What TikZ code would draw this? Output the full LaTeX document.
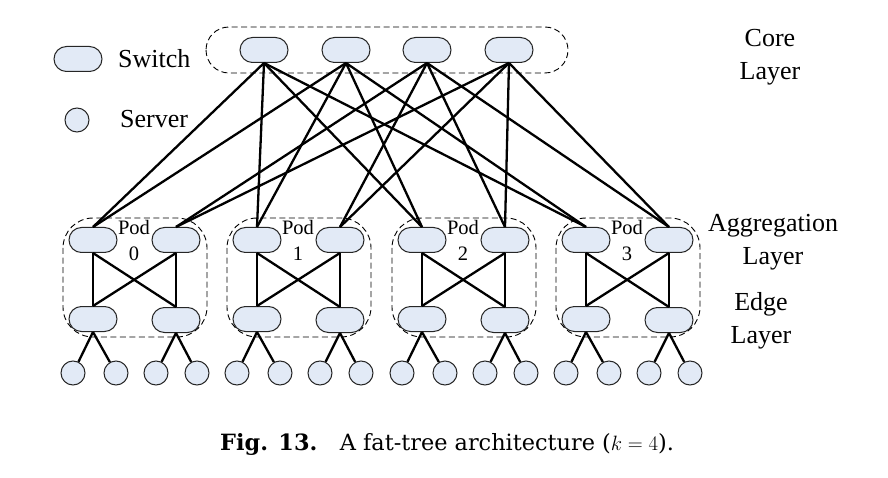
\documentclass[tikz,border=0pt]{standalone}
\usepackage{fontspec}
\setmainfont{Liberation Serif}
\newfontfamily\capfont{DejaVu Serif}
\usepackage{xcolor}

\definecolor{swfill}{RGB}{226,234,246}

\tikzset{
  switch/.style={draw=black!85, line width=1pt, fill=swfill, rounded corners=12.5pt,
    minimum width=48pt, minimum height=25pt, inner sep=0pt},
  server/.style={circle, draw=black!85, line width=1pt, fill=swfill, minimum size=24pt, inner sep=0pt},
  link/.style={line width=2.3pt},
  group/.style={line width=0.9pt, dash pattern=on 6pt off 3.5pt},
  lbl/.style={font=\fontsize{26}{33}\selectfont, align=center, inner sep=0pt},
  podlbl/.style={font=\fontsize{20.5}{25}\selectfont, align=center, fill=white, inner sep=0.5pt},
}

\begin{document}
\begin{tikzpicture}[x=1pt,y=-1pt]
  \useasboundingbox (0,0) rectangle (888,478);

  % Legend
  \node[switch] (keysw) at (78,59) {};
  \node[lbl, anchor=base west] (keyswtxt) at (118,68) {Switch};
  \node[server] (keysrv) at (77,120) {};
  \node[lbl, anchor=base west] (keysrvtxt) at (120,128) {Server};

  % Layer names (base = last line)
  \node[lbl, anchor=base] (corelbl) at (770,80) {Core\\Layer};
  \node[lbl, anchor=base] (agglbl)  at (773,265) {Aggregation\\Layer};
  \node[lbl, anchor=base] (edgelbl) at (761,343) {Edge\\Layer};

  % Core layer
  \draw[group, rounded corners=23pt] (206,27) rectangle (568,73);
  \foreach \c/\x in {0/264,1/346,2/427,3/509}
    \node[switch] (core\c) at (\x,50) {};

  % Pods
  \foreach \p/\x in {0/93,1/257,2/422,3/586} {
    \draw[group, rounded corners=30pt] (\x-30,218) rectangle (\x+114,337);
    \node[switch] (agg\p-L)  at (\x,240) {};
    \node[switch] (agg\p-R)  at (\x+83,240) {};
    \node[switch] (edge\p-L) at (\x,319) {};
    \node[switch] (edge\p-R) at (\x+83,320) {};
    \node[podlbl, anchor=base] (pod\p) at (\x+41,260) {Pod\\\p};
    \foreach \s/\dx in {1/-20,2/23,3/63,4/104}
      \node[server] (srv\p-\s) at (\x+\dx,373) {};
    % agg -- edge
    \draw[link] (agg\p-L.south) -- (edge\p-L.north);
    \draw[link] (agg\p-L.south) -- (edge\p-R.north);
    \draw[link] (agg\p-R.south) -- (edge\p-L.north);
    \draw[link] (agg\p-R.south) -- (edge\p-R.north);
    % edge -- server
    \draw[link] (edge\p-L.south) -- (srv\p-1);
    \draw[link] (edge\p-L.south) -- (srv\p-2);
    \draw[link] (edge\p-R.south) -- (srv\p-3);
    \draw[link] (edge\p-R.south) -- (srv\p-4);
  }

  % Core -- aggregation
  \foreach \c/\s in {0/L,1/L,2/R,3/R}
    \foreach \p in {0,1,2,3}
      \draw[link] (core\c.south) -- (agg\p-\s.north);

  % Caption
  \node[anchor=base west, inner sep=0pt, font=\capfont\fontsize{22.4}{26}\selectfont] (caption)
    at (220,450) {\textbf{Fig. 13.}\quad A fat-tree architecture ($k=4$).};

\end{tikzpicture}
\end{document}
